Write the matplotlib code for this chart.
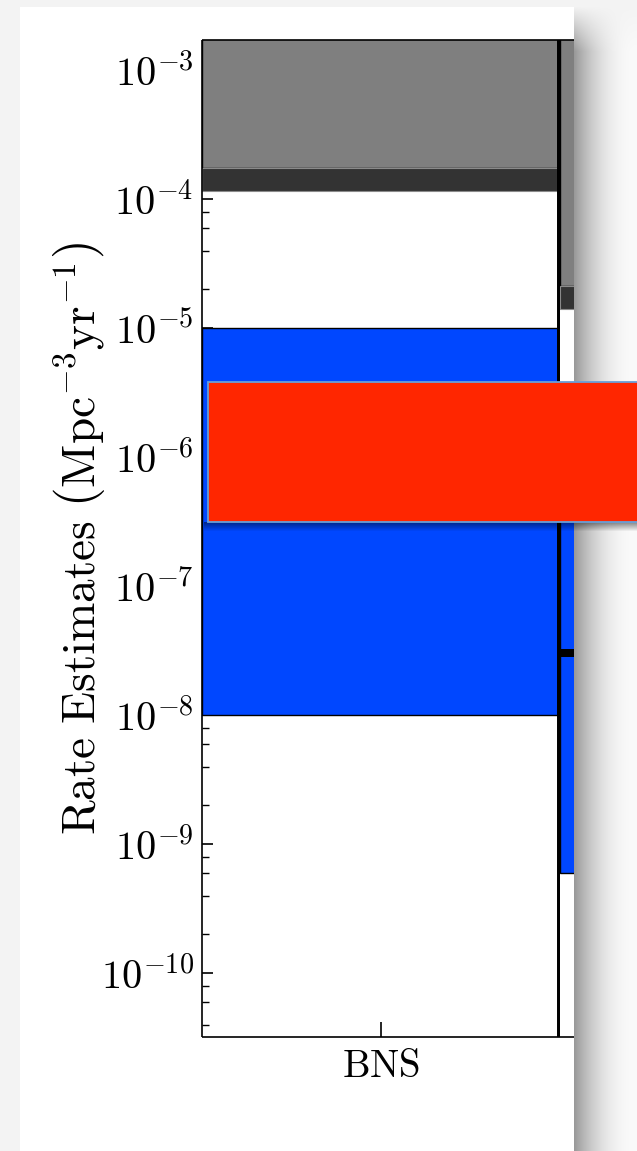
import numpy as np
import matplotlib
matplotlib.use("Agg")
import matplotlib.pyplot as plt
from matplotlib.patches import Rectangle
from matplotlib.ticker import FixedLocator, FuncFormatter, NullFormatter

plt.rcParams["mathtext.fontset"] = "cm"

# ---- data (rates in Mpc^-3 yr^-1) ----
categories = ["BNS", "NSBH"]
excluded_lower = [1.75e-4, 2.12e-5]      # grey: excluded region, up to the top of the axis
limit_band_low = [1.16e-4, 1.42e-5]      # dark band under the excluded region
model_low = [1.0e-8, 5.93e-10]           # blue: range of model predictions
model_high = [1.0e-5, 1.0e-6]
marker_low = [None, 2.83e-8]             # black marker inside the NSBH range
marker_high = [None, 3.28e-8]
ylim = (3.2e-11, 1.72e-3)
decades = list(range(-10, -2))           # labelled powers of ten

W, H, DPI = 637, 1151, 100
fig = plt.figure(figsize=(W / DPI, H / DPI), dpi=DPI, facecolor="#f3f3f3")


def fbox(x0, y0, x1, y1):
    """pixel box (top-left origin) -> figure fraction [l, b, w, h]"""
    return [x0 / W, 1 - y1 / H, (x1 - x0) / W, (y1 - y0) / H]


# white card
l, b, w, h = fbox(20, 7, 574, H + 5)
fig.patches.append(Rectangle((l, b), w, h, transform=fig.transFigure,
                             facecolor="white", edgecolor="none", zorder=-10))

panel_w = 560 - 202
axes = [fig.add_axes(fbox(202, 40, 560, 1037)),
        fig.add_axes(fbox(560, 40, 560 + panel_w, 1037))]

for i, (ax, cat) in enumerate(zip(axes, categories)):
    ax.set_yscale("log")
    ax.set_xlim(-0.5, 0.5)
    ax.set_ylim(*ylim)
    # excluded region
    ax.bar(0, 1.0 - excluded_lower[i], bottom=excluded_lower[i], width=1.0,
           color="#7f7f7f", edgecolor="black", linewidth=1.0, zorder=2)
    ax.bar(0, excluded_lower[i] - limit_band_low[i], bottom=limit_band_low[i],
           width=1.0, color="#333333", edgecolor="#8a8a8a", linewidth=0.8, zorder=2)
    # model range
    ax.bar(0, model_high[i] - model_low[i], bottom=model_low[i], width=1.0,
           color="#0047ff", edgecolor="black", linewidth=1.0, zorder=2)
    if marker_low[i] is not None:
        ax.bar(0, marker_high[i] - marker_low[i], bottom=marker_low[i], width=1.0,
               color="black", edgecolor="none", zorder=3)
    ax.set_xticks([0])
    ax.set_xticklabels([r"$\mathrm{%s}$" % cat], fontsize=28)
    ax.tick_params(axis="x", which="both", direction="in", top=True, bottom=True,
                   length=11, width=1.2, pad=7)
    for s in ax.spines.values():
        s.set_linewidth(1.2)
        s.set_capstyle("butt")

ax1, ax2 = axes
ax1.spines["right"].set_linewidth(4.3)
ax2.spines["left"].set_visible(False)
ax2.tick_params(axis="x", labelbottom=False)

# major ticks at each decade, minor ticks at 2, 4, 6, 8 inside the view
major = [10.0 ** d for d in decades]
minor = [m * 10.0 ** d for d in range(-11, -2) for m in (2, 4, 6, 8)
         if ylim[0] <= m * 10.0 ** d <= ylim[1]]
ax1.yaxis.set_major_locator(FixedLocator(major))
ax1.yaxis.set_major_formatter(FuncFormatter(
    lambda v, pos: r"$10^{%d}$" % int(round(np.log10(v)))))
ax1.yaxis.set_minor_locator(FixedLocator(minor))
ax1.yaxis.set_minor_formatter(NullFormatter())
ax1.tick_params(axis="y", which="major", direction="in", left=True, right=False,
                length=8, width=1.2, labelsize=29, pad=6)
ax1.tick_params(axis="y", which="minor", direction="in", left=True, right=False,
                length=5, width=1.0)
ax1.set_ylabel(r"$\mathrm{Rate\ Estimates}\ \left(\mathrm{Mpc}^{-3}\mathrm{yr}^{-1}\right)$",
               fontsize=34)
ax1.yaxis.set_label_coords(-0.265, 0.5)

ax2.yaxis.set_major_locator(FixedLocator(major))
ax2.yaxis.set_minor_locator(FixedLocator(minor))
ax2.yaxis.set_major_formatter(NullFormatter())
ax2.yaxis.set_minor_formatter(NullFormatter())
ax2.tick_params(axis="y", which="both", left=False, right=False, labelleft=False)

# drop shadow at the right edge of the card
sw = W - 574
xs = np.linspace(0, 1, sw)
shade = 0.60 + 0.38 * (1 - (1 - xs) ** 2.2)
img = np.ones((H, sw, 4))
fade = np.clip((np.arange(H) - 6) / 45.0, 0, 1)[:, None]   # lighter near the top
g = 0.955 - (0.955 - shade[None, :]) * fade
img[..., 0] = g
img[..., 1] = g
img[..., 2] = g
fig.figimage(img[::-1], xo=574, yo=0, origin="lower", zorder=5)

# red panel with its own soft shadow
l, b, w, h = fbox(208, 382, W + 10, 522)
sh = np.zeros((10, W - 204, 4))
sh[..., 3] = np.linspace(0.45, 0.0, 10)[:, None]
fig.figimage(sh, xo=204, yo=H - 532, origin="upper", zorder=9)
fig.patches.append(Rectangle((l, b), w, h, transform=fig.transFigure,
                             facecolor="#ff2600", edgecolor="#6a9fd8",
                             linewidth=1.3, zorder=10))

fig.savefig("out.png", dpi=DPI, facecolor=fig.get_facecolor())
